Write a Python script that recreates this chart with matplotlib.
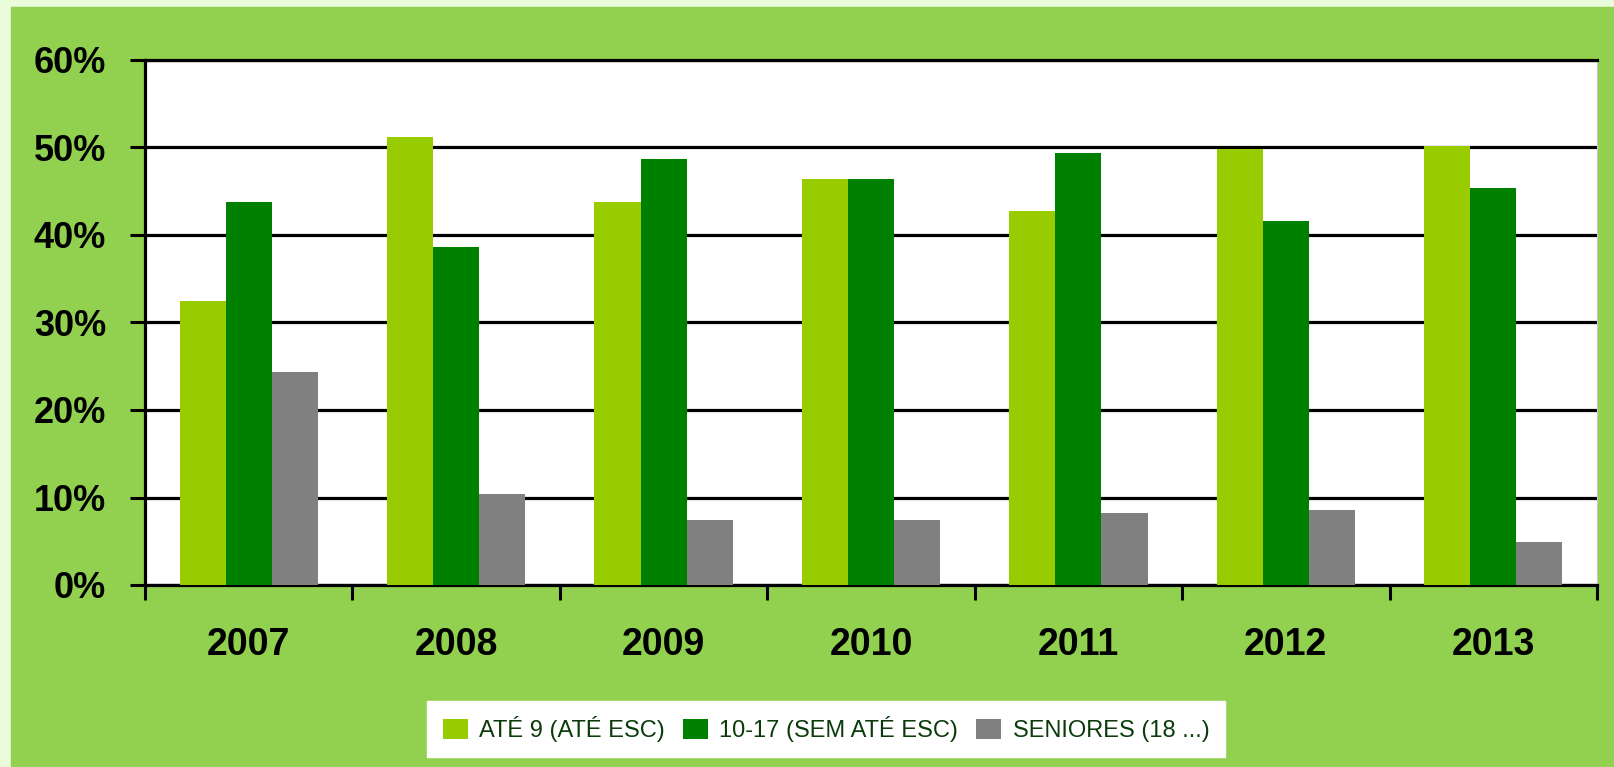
import matplotlib.pyplot as plt
from matplotlib.patches import Rectangle

years = ["2007", "2008", "2009", "2010", "2011", "2012", "2013"]
ate9 = [32.4, 51.2, 43.8, 46.4, 42.7, 49.8, 50.2]
sub17 = [43.8, 38.6, 48.7, 46.4, 49.4, 41.6, 45.4]
seniores = [24.3, 10.4, 7.4, 7.4, 8.2, 8.6, 4.9]
series_names = ["ATÉ 9 (ATÉ ESC)", "10-17 (SEM ATÉ ESC)", "SENIORES (18 ...)"]
colors = ["#99CC00", "#008000", "#808080"]
yticks = [0, 10, 20, 30, 40, 50, 60]

W, H = 1614, 767
fig = plt.figure(figsize=(W / 100, H / 100), dpi=100, facecolor="#EBFCDB")
fig.patches.append(Rectangle((11 / W, 0), 1 - 11 / W, (H - 7) / H,
                             transform=fig.transFigure, color="#92D050", zorder=-5))

ax = fig.add_axes([145 / W, (H - 585) / H, (1597 - 145) / W, 525 / H])
ax.set_facecolor("white")

bw = 1 / 4.5
x = list(range(len(years)))
for k, vals in enumerate([ate9, sub17, seniores]):
    pos = [i + (k - 1) * bw for i in x]
    ax.bar(pos, [v / 100 for v in vals], width=bw, color=colors[k],
           label=series_names[k], zorder=3, linewidth=0)

ax.set_xlim(-0.5, len(years) - 0.5)
ax.set_ylim(0, 0.6)
ax.set_axisbelow(True)

ax.set_yticks([t / 100 for t in yticks])
ax.set_yticklabels([f"{t}%" for t in yticks])
ax.yaxis.grid(True, color="black", linewidth=2.3)
ax.tick_params(axis="y", direction="out", length=11, width=2.2, pad=17,
               labelsize=26, colors="black")
for lab in ax.get_yticklabels():
    lab.set_fontfamily("Liberation Sans")
    lab.set_fontweight("bold")

ax.set_xticks([i - 0.5 for i in range(len(years) + 1)])
ax.set_xticklabels([])
ax.set_xticks(x, minor=True)
ax.set_xticklabels(years, minor=True)
ax.tick_params(axis="x", which="major", direction="out", length=11, width=2.2)
ax.tick_params(axis="x", which="minor", length=0, pad=30, labelsize=27)
for lab in ax.get_xticklabels(minor=True):
    lab.set_fontfamily("Liberation Sans")
    lab.set_fontweight("bold")

for s in ["left", "bottom", "top"]:
    ax.spines[s].set_color("black")
    ax.spines[s].set_linewidth(2.3)
ax.spines["right"].set_color("#C8C8C8")
ax.spines["right"].set_linewidth(0.8)

leg = fig.legend(loc="center", bbox_to_anchor=(826 / W, 1 - 729 / H), ncol=3,
                 frameon=True, fancybox=False, borderpad=0.65,
                 handlelength=1.05, handleheight=0.95, handletextpad=0.5,
                 columnspacing=0.75, prop={"family": "Liberation Sans", "size": 17})
leg.get_frame().set_facecolor("white")
leg.get_frame().set_edgecolor("white")
leg.get_frame().set_alpha(1)
for t in leg.get_texts():
    t.set_color("#0B3B0B")

fig.savefig("out.png", dpi=100, facecolor=fig.get_facecolor())
